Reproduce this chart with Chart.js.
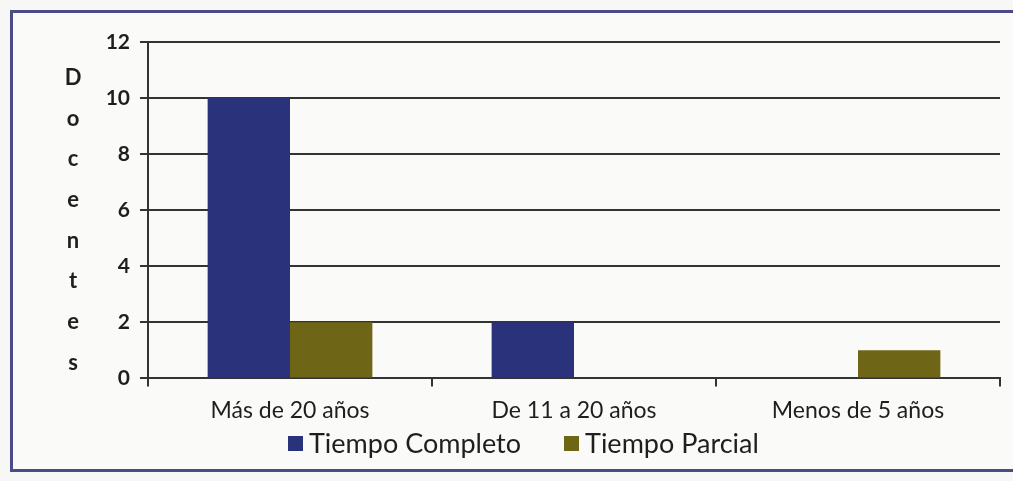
<!DOCTYPE html>
<html>
<head>
<meta charset="utf-8">
<script src="https://cdn.jsdelivr.net/npm/chart.js@4"></script>
<style>
  html, body { margin: 0; padding: 0; background: #f7f7f5; }
  #wrap { position: relative; width: 1013px; height: 481px; overflow: hidden; }
  #frame {
    position: absolute; left: 10px; top: 10px; width: 1020px; height: 456px;
    border: 3px solid #4b4b86; background: #fafaf8;
  }
  canvas { position: absolute; left: 0; top: 0; }
  #legend {
    position: absolute; left: 288px; top: 427px; height: 32px;
    display: flex; align-items: center;
    font-family: Lato, "Open Sans", sans-serif; font-size: 27px; line-height: 32px; color: #1e1e1e;
  }
  #legend .item { display: flex; align-items: center; margin-right: 43px; }
  #legend .box { width: 15px; height: 15px; margin-right: 6px; }
</style>
</head>
<body>
<div id="wrap">
  <div id="frame"></div>
  <canvas id="chart" width="1013" height="481"></canvas>
  <div id="legend"></div>
</div>
<script>
// categories and values
const categories = ['Más de 20 años', 'De 11 a 20 años', 'Menos de 5 años'];
const tiempoCompleto = [10, 2, 0];
const tiempoParcial = [2, 0, 1];
const seriesNames = ['Tiempo Completo', 'Tiempo Parcial'];
const yTitle = 'Docentes';

const fontFamily = 'Lato, "Open Sans", sans-serif';
const textColor = '#1e1e1e';

// stacked vertical letters for the y-axis title
const verticalTitle = {
  id: 'verticalTitle',
  afterDraw(chart) {
    const ctx = chart.ctx;
    const area = chart.chartArea;
    const letters = yTitle.split('');
    const step = 40.7;
    const mid = (area.top + area.bottom) / 2 + 10;
    const start = mid - step * (letters.length - 1) / 2;
    ctx.save();
    ctx.fillStyle = textColor;
    ctx.font = 'bold 22px ' + fontFamily;
    ctx.textAlign = 'center';
    ctx.textBaseline = 'middle';
    letters.forEach((ch, i) => ctx.fillText(ch, 73, start + i * step));
    ctx.restore();
  }
};

const chart = new Chart(document.getElementById('chart'), {
  type: 'bar',
  data: {
    labels: categories,
    datasets: [{
      label: seriesNames[0],
      data: tiempoCompleto,
      backgroundColor: '#29327a',
      barPercentage: 1,
      categoryPercentage: 0.58
    }, {
      label: seriesNames[1],
      data: tiempoParcial,
      backgroundColor: '#6f6516',
      barPercentage: 1,
      categoryPercentage: 0.58
    }]
  },
  options: {
    responsive: false,
    animation: false,
    layout: { padding: { left: 0, right: 13, top: 42, bottom: 47 } },
    plugins: {
      legend: { display: false },
      tooltip: { enabled: false }
    },
    scales: {
      x: {
        grid: { drawOnChartArea: false, drawTicks: true, tickLength: 8, color: '#333', lineWidth: 2 },
        border: { color: '#333', width: 2 },
        ticks: { color: textColor, font: { family: fontFamily, size: 23 }, padding: 10 }
      },
      y: {
        min: 0,
        max: 12,
        afterFit: scale => { scale.width = 148; },
        grid: { color: '#333', lineWidth: 2, tickLength: 8 },
        border: { color: '#333', width: 2 },
        ticks: { stepSize: 2, color: textColor, font: { family: fontFamily, size: 21, weight: 'bold' }, padding: 10 }
      }
    }
  },
  plugins: [verticalTitle]
});

// legend built from the chart's datasets
const legendEl = document.getElementById('legend');
chart.data.datasets.forEach(ds => {
  const item = document.createElement('span');
  item.className = 'item';
  const box = document.createElement('span');
  box.className = 'box';
  box.style.background = ds.backgroundColor;
  item.appendChild(box);
  item.appendChild(document.createTextNode(ds.label));
  legendEl.appendChild(item);
});
</script>
</body>
</html>
